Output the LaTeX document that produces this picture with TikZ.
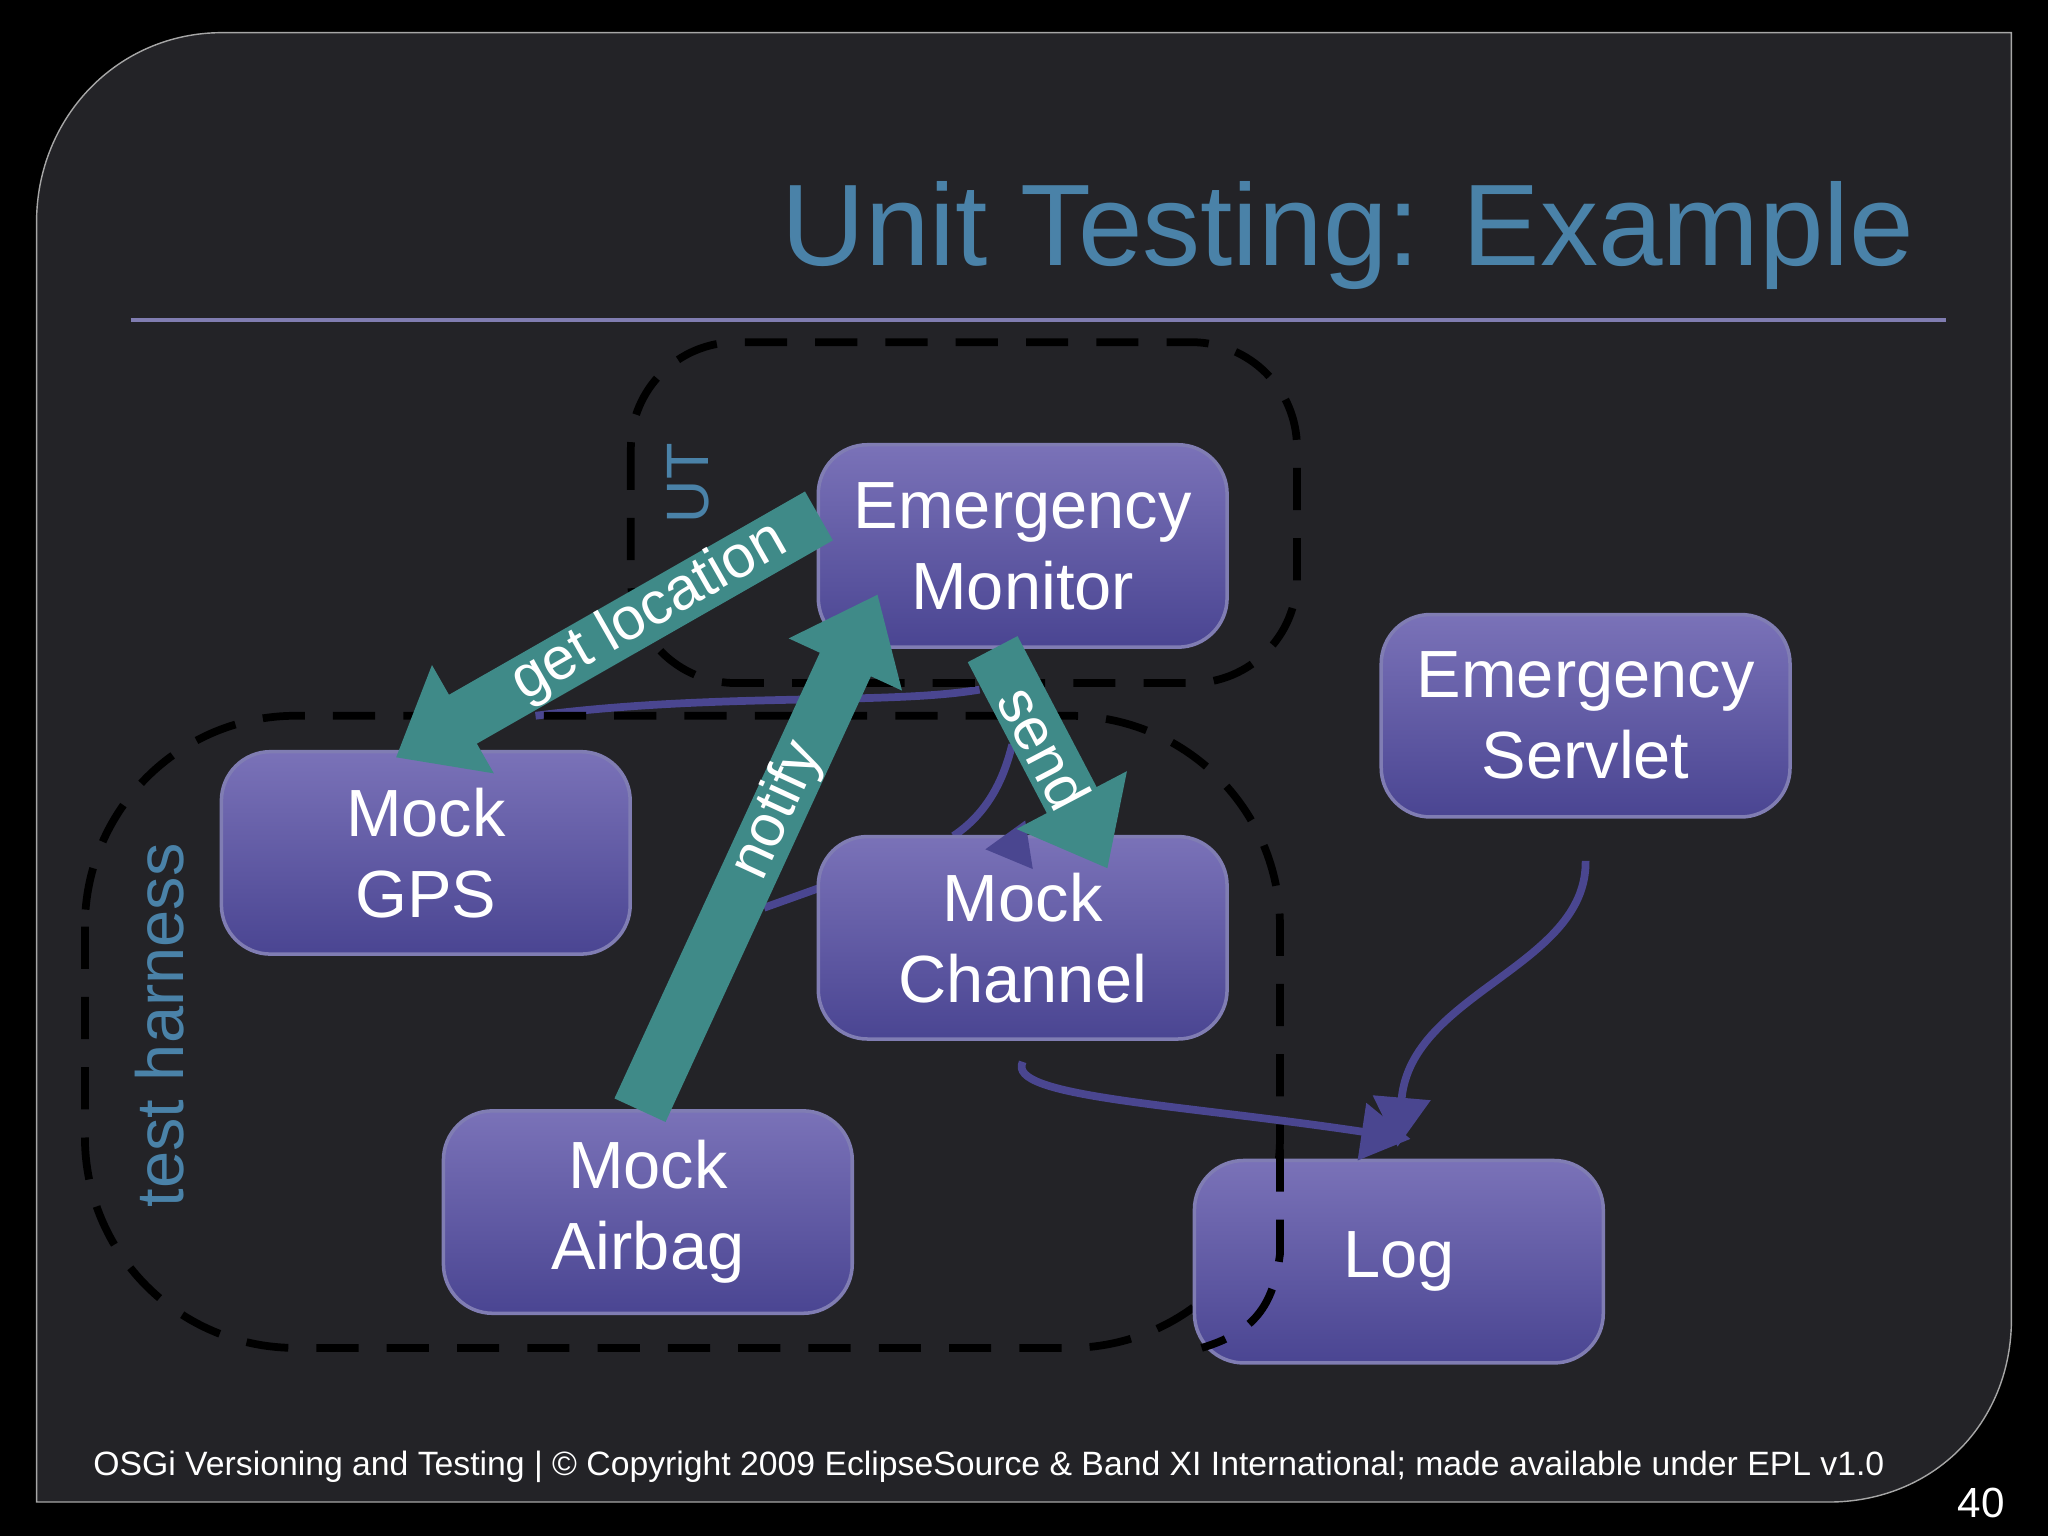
\documentclass[tikz,border=0pt]{standalone}
\usepackage{fontspec}
\setmainfont{Liberation Sans}
\usetikzlibrary{arrows.meta}
\definecolor{bgc}{HTML}{232327}
\definecolor{titlec}{HTML}{4A82A8}
\definecolor{boxtop}{HTML}{7A72B8}
\definecolor{boxbot}{HTML}{4A4592}
\definecolor{tealc}{HTML}{3F8A88}
\definecolor{linec}{HTML}{4A4690}
\tikzset{
 blk/.style={draw=boxbot!70!white,line width=1pt,rounded corners=14pt,top color=boxtop,bottom color=boxbot,text=white,font=\fontsize{19}{23}\selectfont,align=center,minimum width=313*0.01306cm,minimum height=155*0.01306cm},
 harness/.style={draw=black,line width=2.2pt,dash pattern=on 12pt off 8pt},
 tarrow/.style={draw=tealc,line width=16pt,-{Triangle[width=34pt,length=22pt]}},
 tlab/.style={text=white,font=\fontsize{17}{20}\selectfont,sloped},
 thin/.style={draw=linec,line width=2.2pt}
}
\begin{document}
\begin{tikzpicture}[x=0.01306cm,y=-0.01306cm]
\fill[black] (0,0) rectangle (1568,1176);
\useasboundingbox (0,0) rectangle (1568,1176);
\draw[fill=bgc,draw=gray!70] (28,170) .. controls (28,90) and (90,25) .. (170,25) -- (1540,25) -- (1540,1010) .. controls (1540,1090) and (1480,1150) .. (1400,1150) -- (28,1150) -- cycle;
\node[anchor=east,text=titlec,font=\fontsize{33}{38}\selectfont] (title) at (1475,180) {Unit Testing: Example};
\draw[linec!70,line width=1pt] (100,245) -- (1490,245);
% thin connectors (behind)
\draw[thin] (410,548) .. controls (550,530) and (680,540) .. (750,528);
\draw[thin] (730,640) .. controls (760,620) and (770,590) .. (775,570);
\draw[thin] (585,695) -- (627,680);
% dashed boxes
\draw[harness,rounded corners=30pt] (483,262) rectangle (993,523);
\draw[harness,rounded corners=60pt] (65,548) rectangle (980,1032);
\node[rotate=90,text=titlec,font=\fontsize{17}{20}\selectfont] (cut) at (527,370) {UT};
\node[rotate=90,text=titlec,font=\fontsize{19}{22}\selectfont] (th) at (122,785) {test harness};
% nodes
\node[blk] (em) at (783,418) {Emergency\\Monitor};
\node[blk] (gps) at (326,653) {Mock\\GPS};
\node[blk] (ch) at (783,718) {Mock\\Channel};
\node[blk] (ab) at (496,928) {Mock\\Airbag};
\node[blk] (es) at (1214,548) {Emergency\\Servlet};
\node[blk] (log) at (1071,966) {Log};
\draw[harness] (980,880) -- (980,960) .. controls (975,1000) and (960,1020) .. (920,1032);
% thin arrows
\draw[thin,-{Triangle[width=14pt,length=12pt]}] (780,640) -- (785,628);
\draw[thin,-{Triangle[width=16pt,length=14pt]}] ([yshift=-6pt]ch.south) .. controls (770,840) and (900,845) .. (1080,872);
\draw[thin,-{Triangle[width=16pt,length=14pt]}] ([yshift=-12pt]es.south) .. controls (1215,740) and (1080,760) .. (1070,878);
% teal arrows
\draw[tarrow] (627,395) -- node[tlab,pos=0.4] {get location} (303,580);
\draw[tarrow] (490,850) -- node[tlab,pos=0.58] {notify} (672,455);
\draw[tarrow] (760,497) -- node[tlab,pos=0.45] {send} (848,665);
\node[anchor=west,text=white,font=\fontsize{9.6}{11}\selectfont] (foot) at (62,1123) {OSGi Versioning and Testing | © Copyright 2009 EclipseSource \& Band XI International; made available under EPL v1.0};
\node[text=white,font=\fontsize{12}{14}\selectfont] (pg) at (1517,1151) {40};
\end{tikzpicture}
\end{document}
